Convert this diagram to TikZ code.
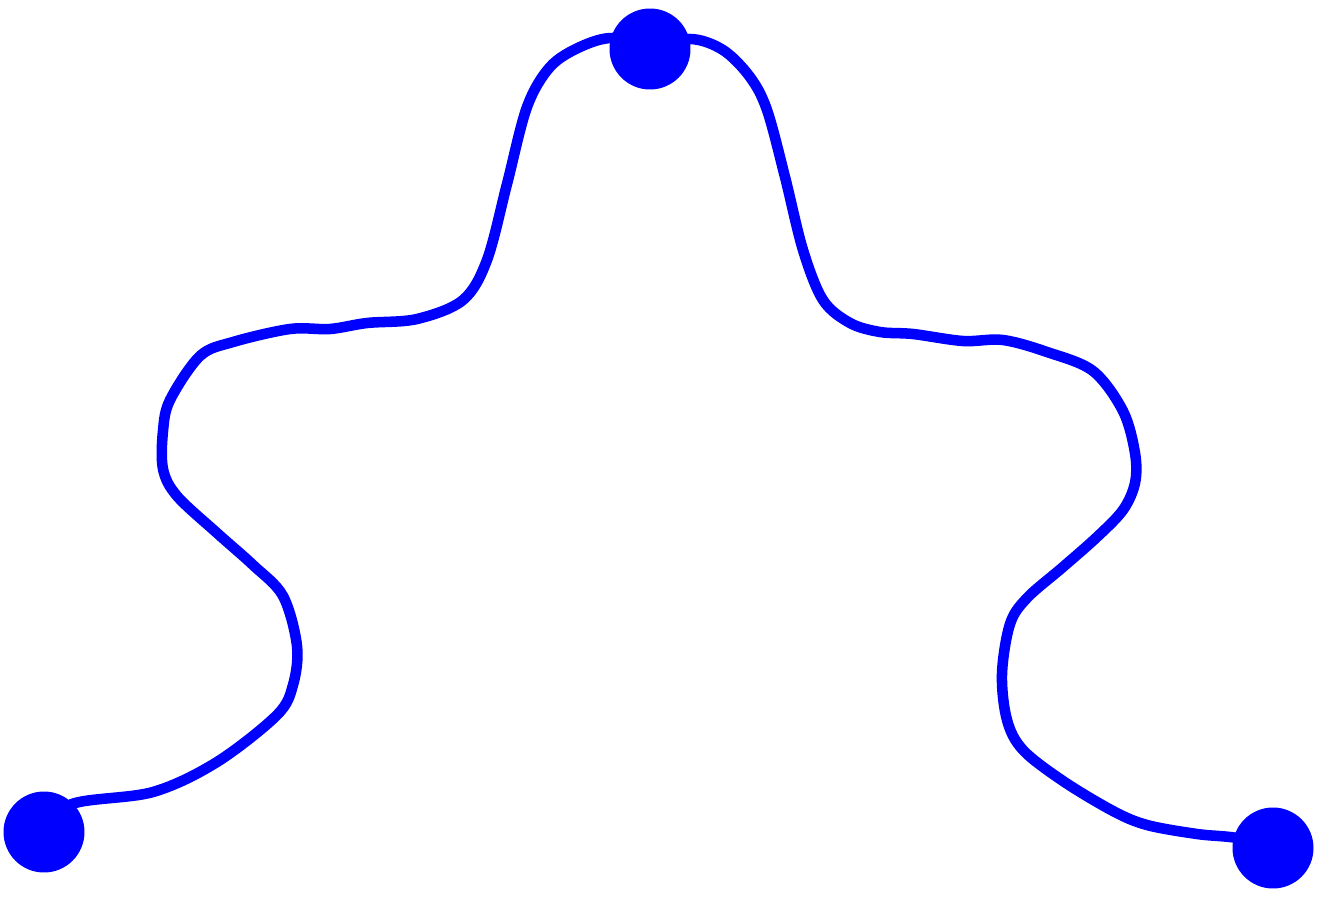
\documentclass[tikz,border=0pt]{standalone}
\usepackage{xcolor}
\usepackage{tikz}
\definecolor{wavyBlue}{HTML}{0000FF}
\tikzset{
  wavyline/.style={draw=wavyBlue,line width=6pt,line cap=round,line join=round},
  enddot/.style={circle,fill=wavyBlue,inner sep=0pt,minimum size=1.62cm}
}

\begin{document}
\begin{tikzpicture}[x=0.02cm,y=-0.02cm]
  \useasboundingbox (0,0) rectangle (1330,899);
  \coordinate (left) at (44,832);
  \coordinate (top) at (650,49);
  \coordinate (right) at (1273,848);
  % left arm, up to the peak
  \draw[wavyline] plot[smooth,tension=0.55] coordinates {
    (left) (72,804) (153,792) (217,762) (277,715) (293,685) (297,646)
    (283,596) (253,565) (217,533) (177,496) (163,469) (163,431) (170,400)
    (200,356) (233,342) (290,329) (330,329) (367,323) (417,319) (463,300)
    (487,260) (507,184) (527,107) (550,67) (580,47) (613,38) (top)};
  % right arm, down from the peak
  \draw[wavyline] plot[smooth,tension=0.55] coordinates {
    (top) (690,39) (723,50) (750,77) (767,110) (785,177) (803,250)
    (823,300) (850,323) (880,332) (913,334) (963,341) (1003,340)
    (1047,352) (1093,371) (1123,411) (1135,453) (1135,483) (1123,510)
    (1097,537) (1063,567) (1027,598) (1010,624) (1002,674) (1007,720)
    (1023,750) (1063,781) (1113,811) (1147,825) (1197,834) (1237,838) (right)};
  \node[enddot] (ldot) at (left) {};
  \node[enddot] (tdot) at (top) {};
  \node[enddot] (rdot) at (right) {};
\end{tikzpicture}
\end{document}
